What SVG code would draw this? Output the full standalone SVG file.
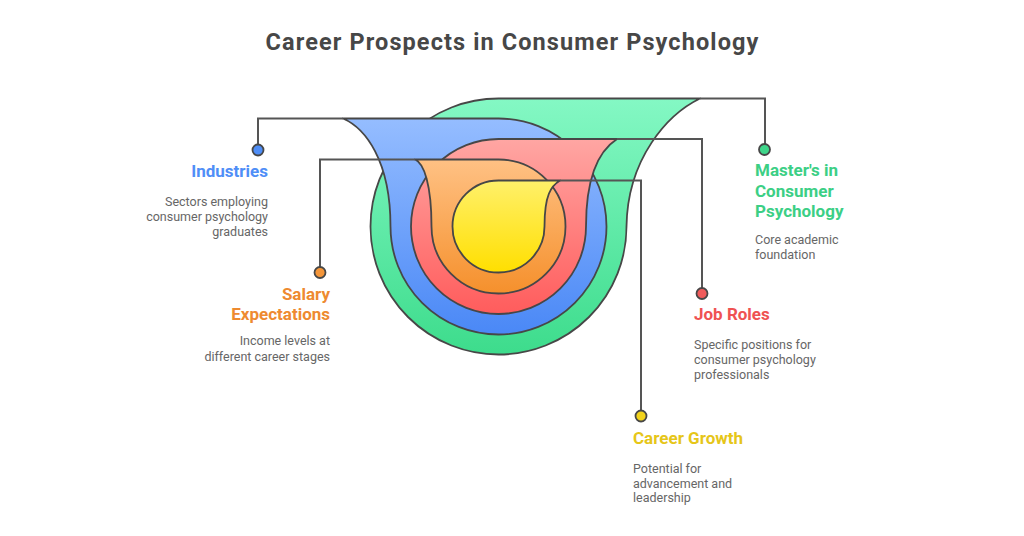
<svg xmlns="http://www.w3.org/2000/svg" width="1024" height="536" viewBox="0 0 1024 536">
<style>
.sh{stroke:#474747;stroke-width:1.8;stroke-linejoin:round}
.cn{fill:none;stroke:#555;stroke-width:2}
.dot{stroke:#474747;stroke-width:1.8}
.title{font-family:Roboto,"Liberation Sans",sans-serif;font-weight:700;font-size:23.5px;letter-spacing:1.1px;fill:#474747}
.lbl{font-family:Roboto,"Liberation Sans",sans-serif;font-weight:700;font-size:17px}
.dsc{font-family:Roboto,"Liberation Sans",sans-serif;font-size:12.5px;fill:#666}
.r{text-anchor:end}
</style>
<defs>
<linearGradient id="gG" x1="0" y1="0" x2="0" y2="1"><stop offset="0" stop-color="#84f8c4"/><stop offset="1" stop-color="#3ddc8c"/></linearGradient>
<linearGradient id="gB" x1="0" y1="0" x2="0" y2="1"><stop offset="0" stop-color="#95bdff"/><stop offset="1" stop-color="#4a88f6"/></linearGradient>
<linearGradient id="gR" x1="0" y1="0" x2="0" y2="1"><stop offset="0" stop-color="#ffa6a3"/><stop offset="1" stop-color="#ff5c5c"/></linearGradient>
<linearGradient id="gO" x1="0" y1="0" x2="0" y2="1"><stop offset="0" stop-color="#ffc184"/><stop offset="1" stop-color="#f5902c"/></linearGradient>
<linearGradient id="gY" x1="0" y1="0" x2="0" y2="1"><stop offset="0" stop-color="#fff06a"/><stop offset="1" stop-color="#ffdf00"/></linearGradient>
</defs>
<rect width="1024" height="536" fill="#fff"/>
<text class="title" x="512.5" y="50" text-anchor="middle">Career Prospects in Consumer Psychology</text>
<g id="shapes">
<path id="shape-masters" class="sh" fill="url(#gG)" d="M498.5 98.5 L700 98.5 C668 114 627.5 158 626.5 226.5 A128 128 0 1 1 498.5 98.5 Z"/>
<path id="shape-industries" class="sh" fill="url(#gB)" d="M498.5 118.5 L343 118.5 C365 128 390.5 160 390.5 226.5 A108 108 0 1 0 498.5 118.5 Z"/>
<path id="shape-jobroles" class="sh" fill="url(#gR)" d="M498.5 139 L617 139 C600 150 586 175 586 226.5 A87.5 87.5 0 1 1 498.5 139 Z"/>
<path id="shape-salary" class="sh" fill="url(#gO)" d="M498.5 159.5 L415 159.5 C424 163 431.5 185 431.5 226.5 A67 67 0 1 0 498.5 159.5 Z"/>
<path id="shape-growth" class="sh" fill="url(#gY)" d="M498.5 180.5 L560 180.5 C551 186 544.5 195 544.5 226.5 A46 46 0 1 1 498.5 180.5 Z"/>
</g>
<g id="connectors">
<path class="cn" d="M258 150 V118.5 H343"/>
<path class="cn" d="M320 272 V159.5 H415"/>
<path class="cn" d="M765 150 V98.5 H700"/>
<path class="cn" d="M702 293 V139 H617"/>
<path class="cn" d="M641 416 V180.5 H560"/>
</g>
<g id="industries">
<circle class="dot" cx="258" cy="150" r="5.5" fill="#4f8ef7"/>
<text class="lbl r" x="268" y="177" fill="#4f8ef7">Industries</text>
<text class="dsc r" x="268" y="206">Sectors employing</text>
<text class="dsc r" x="268" y="221">consumer psychology</text>
<text class="dsc r" x="268" y="236">graduates</text>
</g>
<g id="salary">
<circle class="dot" cx="320" cy="272.5" r="5.5" fill="#f4963a"/>
<text class="lbl r" x="330" y="299.5" fill="#ee8a30">Salary</text>
<text class="lbl r" x="330" y="320" fill="#ee8a30">Expectations</text>
<text class="dsc r" x="330" y="345">Income levels at</text>
<text class="dsc r" x="330" y="360.5">different career stages</text>
</g>
<g id="masters">
<circle class="dot" cx="764.5" cy="149.5" r="5.5" fill="#3ed68a"/>
<text class="lbl" x="755" y="176" fill="#3ccf85">Master's in</text>
<text class="lbl" x="755" y="196.5" fill="#3ccf85">Consumer</text>
<text class="lbl" x="755" y="217" fill="#3ccf85">Psychology</text>
<text class="dsc" x="755" y="243.5">Core academic</text>
<text class="dsc" x="755" y="258.5">foundation</text>
</g>
<g id="jobroles">
<circle class="dot" cx="702" cy="293.5" r="5.5" fill="#f05b5b"/>
<text class="lbl" x="694" y="320" fill="#ef5252">Job Roles</text>
<text class="dsc" x="694" y="348.5">Specific positions for</text>
<text class="dsc" x="694" y="363.5">consumer psychology</text>
<text class="dsc" x="694" y="378.5">professionals</text>
</g>
<g id="growth">
<circle class="dot" cx="641" cy="416" r="5.5" fill="#f2d31c"/>
<text class="lbl" x="633" y="443.5" fill="#e6c619">Career Growth</text>
<text class="dsc" x="633" y="473">Potential for</text>
<text class="dsc" x="633" y="487.5">advancement and</text>
<text class="dsc" x="633" y="502">leadership</text>
</g>
</svg>
